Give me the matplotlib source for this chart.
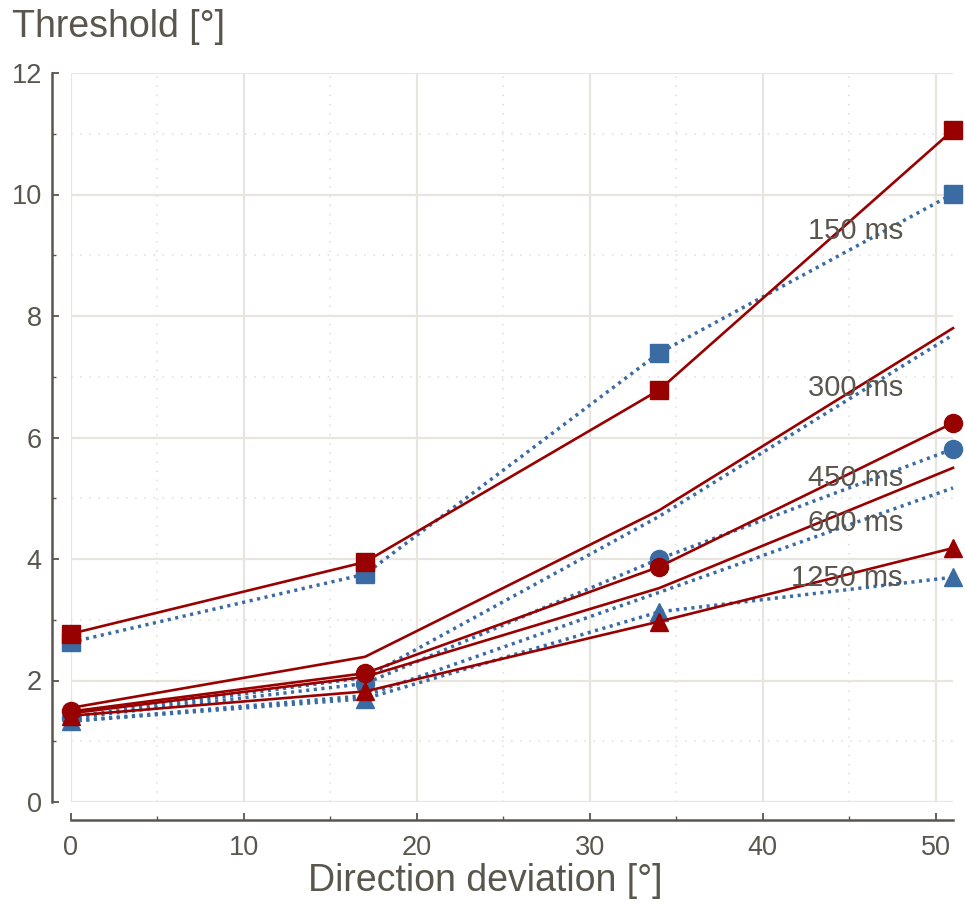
import matplotlib
matplotlib.use("Agg")
import matplotlib.pyplot as plt
from matplotlib.ticker import MultipleLocator

# ---- data ----
x = [0, 17, 34, 51]
red_150 = [2.77, 3.95, 6.78, 11.06]
blue_150 = [2.63, 3.75, 7.39, 10.01]
red_300 = [1.55, 2.39, 4.80, 7.80]
blue_300 = [1.40, 2.05, 4.70, 7.69]
red_450 = [1.49, 2.12, 3.87, 6.24]
blue_450 = [1.38, 1.95, 4.00, 5.81]
red_600 = [1.46, 2.06, 3.52, 5.50]
blue_600 = [1.33, 1.75, 3.45, 5.17]
red_1250 = [1.42, 1.82, 2.97, 4.18]
blue_1250 = [1.33, 1.70, 3.13, 3.70]
labels = ["150 ms", "300 ms", "450 ms", "600 ms", "1250 ms"]
label_y = [9.4, 6.81, 5.33, 4.59, 3.69]
xticks = [0, 10, 20, 30, 40, 50]
yticks = [0, 2, 4, 6, 8, 10, 12]

RED = "#990000"
BLUE = "#3a6ca3"
TXT = "#5a564e"
GRID = "#e8e5e1"

plt.rcParams['font.family'] = ['Liberation Sans', 'DejaVu Sans']

fig = plt.figure(figsize=(9.65, 9.06), dpi=100)
ax = fig.add_axes([71/965, 1-802/906, (953-71)/965, (802-73)/906])

series = [
    (blue_150, red_150, 's', 13),
    (blue_300, red_300, None, 0),
    (blue_450, red_450, 'o', 13),
    (blue_600, red_600, None, 0),
    (blue_1250, red_1250, '^', 13),
]
for b, r, m, ms in series:
    ax.plot(x, b, color=BLUE, lw=2.5, linestyle=(0, (0.9, 1.3)),
            marker=m, markersize=ms, clip_on=False, zorder=3)
for b, r, m, ms in series:
    ax.plot(x, r, color=RED, lw=1.9, linestyle='-',
            marker=m, markersize=ms, clip_on=False, zorder=4)

for lab, ly in zip(labels, label_y):
    ax.text(48.1, ly, lab, ha='right', va='center', fontsize=21,
            color=TXT, zorder=5)

ax.set_xlim(0, 51)
ax.set_ylim(0, 12)
ax.xaxis.set_minor_locator(MultipleLocator(5))
ax.yaxis.set_minor_locator(MultipleLocator(1))
ax.set_xticks(xticks)
ax.set_yticks(yticks)

ax.grid(True, which='major', color=GRID, lw=1.6, zorder=0)
ax.grid(True, which='minor', color="#e0dcd7", lw=1.1, linestyle=(0, (1, 5)), zorder=0)
ax.set_axisbelow(True)

for s in ['top', 'right']:
    ax.spines[s].set_visible(False)
ax.spines['left'].set_position(('outward', 14))
ax.spines['bottom'].set_position(('outward', 13))
ax.spines['left'].set_bounds(0, 12)
ax.spines['bottom'].set_bounds(0, 51)
for s in ['left', 'bottom']:
    ax.spines[s].set_color(TXT)
    ax.spines[s].set_linewidth(1.8)

ax.tick_params(axis='both', which='major', direction='in', length=5, width=1.3,
               color=TXT, labelcolor=TXT, labelsize=19.5)
ax.tick_params(axis='both', which='minor', direction='in', length=3, width=1.0,
               color=TXT)
ax.tick_params(axis='y', pad=7)
ax.tick_params(axis='x', pad=11)

fig.text(485/965, 1-881/906, "Direction deviation [°]", fontsize=27, color=TXT,
         ha='center', va='center')
fig.text(12/965, 1-27/906, "Threshold [°]", fontsize=27, color=TXT,
         ha='left', va='center')

fig.savefig("out.png", dpi=100)
